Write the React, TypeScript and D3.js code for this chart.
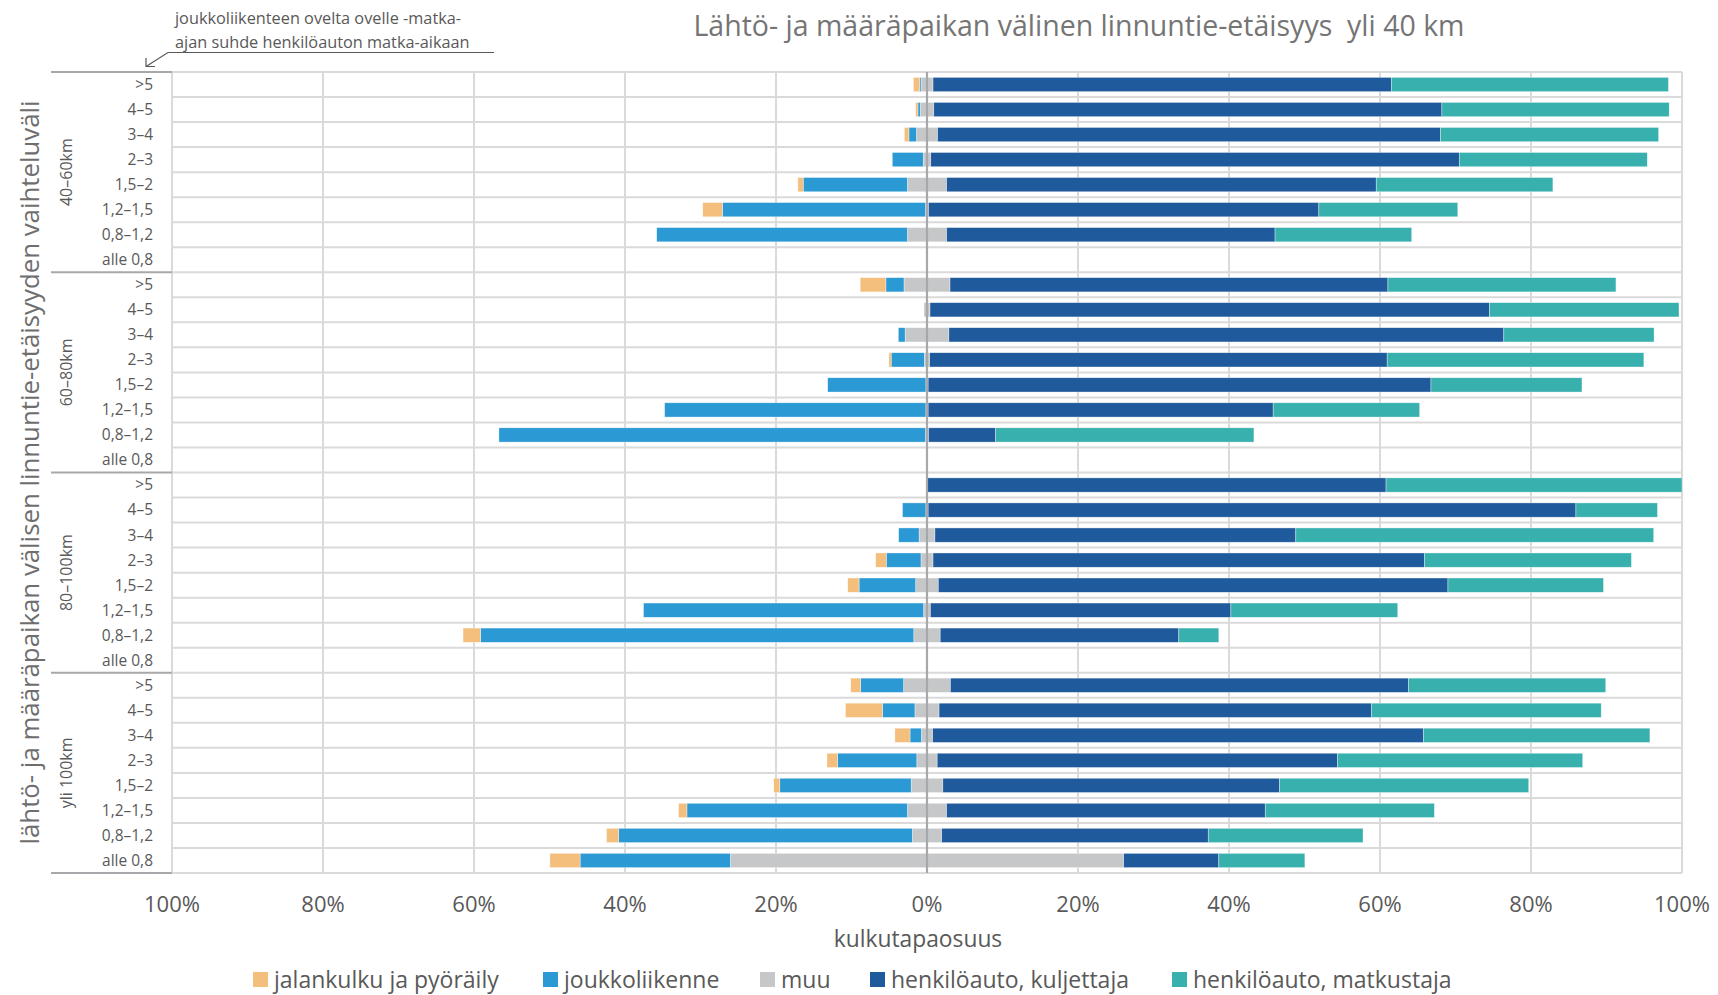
import * as d3 from "d3";

const groups = ["40–60km", "60–80km", "80–100km", "yli 100km"];
const categories = [">5", "4–5", "3–4", "2–3", "1,5–2", "1,2–1,5", "0,8–1,2", "alle 0,8"];
const xTicks = [-100, -80, -60, -40, -20, 0, 20, 40, 60, 80, 100];

// shares (%) per row, group by group, category by category
const walk = [
  0.8, 0.3, 0.6, 0, 0.7, 2.6, 0, 0,
  3.4, 0, 0, 0.3, 0, 0, 0, 0,
  0, 0, 0, 1.4, 1.5, 0, 2.3, 0,
  1.3, 4.9, 2.0, 1.4, 0.8, 1.1, 1.6, 4.0,
];
const transit = [
  0.2, 0.3, 1.0, 4.1, 13.8, 26.9, 33.2, 0,
  2.4, 0, 0.9, 4.4, 13.0, 34.6, 56.5, 0,
  0, 3.1, 2.7, 4.6, 7.5, 37.1, 57.4, 0,
  5.7, 4.3, 1.5, 10.5, 17.4, 29.2, 38.9, 19.9,
];
const other = [
  1.6, 1.8, 2.8, 1.0, 5.2, 0.4, 5.2, 0,
  6.1, 0.8, 5.8, 0.7, 0.3, 0.3, 0.4, 0,
  0, 0.3, 2.1, 1.6, 3.0, 0.9, 3.5, 0,
  6.2, 3.2, 1.5, 2.7, 4.2, 5.2, 3.9, 52.1,
];
const driver = [
  60.7, 67.3, 66.6, 70.0, 56.9, 51.7, 43.5, 0,
  58.0, 74.1, 73.5, 60.6, 66.6, 45.7, 8.9, 0,
  60.8, 85.8, 47.8, 65.1, 67.5, 39.8, 31.6, 0,
  60.7, 57.3, 65.0, 53.0, 44.6, 42.2, 35.3, 12.6,
];
const passenger = [
  36.7, 30.1, 28.9, 24.9, 23.4, 18.4, 18.1, 0,
  30.2, 25.1, 19.9, 34.0, 20.0, 19.4, 34.2, 0,
  39.2, 10.8, 47.4, 27.4, 20.6, 22.1, 5.3, 0,
  26.1, 30.4, 30.0, 32.5, 33.0, 22.4, 20.5, 11.4,
];

const seriesNames = [
  "jalankulku ja pyöräily",
  "joukkoliikenne",
  "muu",
  "henkilöauto, kuljettaja",
  "henkilöauto, matkustaja",
];
const colors = ["#F4BE7D", "#2B99D4", "#C6C7C9", "#1F5A9C", "#38B0AD"];

const W = 1718;
const H = 995;
const left = 172;
const right = 1682;
const top = 72;
const bottom = 873;
const font = "'Open Sans', Lato, sans-serif";
const textColor = "#595959";

export default function App() {
  const rows = groups.flatMap((g) => categories.map((c) => `${g}|${c}`));
  const x = d3.scaleLinear([-100, 100], [left, right]);
  const y = d3.scaleBand(rows, [top, bottom]).paddingInner(0.43).paddingOuter(0.215);
  const step = y.step();

  // diverging stack: muu split around zero
  const segs: { key: string; i: number; x0: number; x1: number }[] = [];
  rows.forEach((key, r) => {
    const half = other[r] / 2;
    segs.push({ key, i: 2, x0: -half, x1: half });
    segs.push({ key, i: 1, x0: -half - transit[r], x1: -half });
    segs.push({ key, i: 0, x0: -half - transit[r] - walk[r], x1: -half - transit[r] });
    segs.push({ key, i: 3, x0: half, x1: half + driver[r] });
    segs.push({ key, i: 4, x0: half + driver[r], x1: half + driver[r] + passenger[r] });
  });

  const rowLines = d3.range(rows.length + 1).map((k) => top + k * step);
  const groupLines = d3.range(groups.length + 1).map((k) => top + k * step * categories.length);
  const legendX = [253, 543, 760, 870, 1172];

  return (
    <svg
      width={W}
      height={H}
      style={{ position: "absolute", left: 0, top: 0, background: "#fff" }}
      fontFamily={font}
    >
      {/* title */}
      <text x={1079} y={36} textAnchor="middle" fontSize={28.5} fill="#757575">
        Lähtö- ja määräpaikan välinen linnuntie-etäisyys{"\u00a0\u00a0"}yli 40 km
      </text>

      {/* annotation */}
      <text x={175} y={24} fontSize={16.3} fill={textColor}>
        joukkoliikenteen ovelta ovelle -matka-
      </text>
      <text x={175} y={48} fontSize={16.3} fill={textColor}>
        ajan suhde henkilöauton matka-aikaan
      </text>
      <path d="M494,52.5 L168,52.5 L146,66.5" fill="none" stroke="#595959" strokeWidth={1.2} />
      <path d="M146,58 L146,66.5 L155,66.5" fill="none" stroke="#595959" strokeWidth={1.2} />

      {/* grid */}
      {rowLines.map((ly, k) => (
        <line key={"r" + k} x1={left} x2={right} y1={ly} y2={ly} stroke="#DADADA" strokeWidth={2} />
      ))}
      {xTicks.map((t) => (
        <line key={"v" + t} x1={x(t)} x2={x(t)} y1={top} y2={bottom} stroke="#DADADA" strokeWidth={2} />
      ))}

      {/* bars */}
      {segs
        .filter((s) => s.x1 - s.x0 > 0)
        .map((s, k) => (
          <rect
            key={k}
            x={x(s.x0)}
            y={y(s.key)}
            width={x(s.x1) - x(s.x0)}
            height={y.bandwidth()}
            fill={colors[s.i]}
            stroke="#fff"
            strokeOpacity={0.6}
            strokeWidth={0.6}
          />
        ))}

      {/* zero line */}
      <line x1={x(0)} x2={x(0)} y1={top} y2={bottom} stroke="#A7A8AB" strokeWidth={2.2} />

      {/* group separators in label area */}
      {groupLines.map((ly, k) => (
        <line key={"g" + k} x1={51} x2={left} y1={ly} y2={ly} stroke="#A7A8AB" strokeWidth={2} />
      ))}

      {/* category labels */}
      {rows.map((key) => (
        <text
          key={"l" + key}
          x={153}
          y={(y(key) ?? 0) + y.bandwidth() / 2}
          dy="0.35em"
          textAnchor="end"
          fontSize={15.5}
          fill={textColor}
        >
          {key.split("|")[1]}
        </text>
      ))}

      {/* group labels */}
      {groups.map((g, k) => {
        const cy = groupLines[k] + (groupLines[k + 1] - groupLines[k]) / 2;
        return (
          <text
            key={"gl" + g}
            transform={`translate(66,${cy}) rotate(-90)`}
            textAnchor="middle"
            dy="0.35em"
            fontSize={16}
            fill={textColor}
          >
            {g}
          </text>
        );
      })}

      {/* y axis title */}
      <text
        transform={`translate(30,${(top + bottom) / 2}) rotate(-90)`}
        textAnchor="middle"
        dy="0.35em"
        fontSize={25.8}
        fill="#6E6E6E"
      >
        lähtö- ja määräpaikan välisen linnuntie-etäisyyden vaihteluväli
      </text>

      {/* x tick labels */}
      {xTicks.map((t) => (
        <text key={"t" + t} x={x(t)} y={904} dy="0.35em" textAnchor="middle" fontSize={22} fill={textColor}>
          {Math.abs(t)}%
        </text>
      ))}
      <text x={x(0) - 9} y={939} dy="0.35em" textAnchor="middle" fontSize={22.8} fill={textColor}>
        kulkutapaosuus
      </text>

      {/* legend */}
      {seriesNames.map((n, k) => (
        <g key={"lg" + n}>
          <rect x={legendX[k]} y={972} width={15} height={15} fill={colors[k]} />
          <text x={legendX[k] + 21} y={980} dy="0.35em" fontSize={23} fill={textColor}>
            {n}
          </text>
        </g>
      ))}
    </svg>
  );
}
